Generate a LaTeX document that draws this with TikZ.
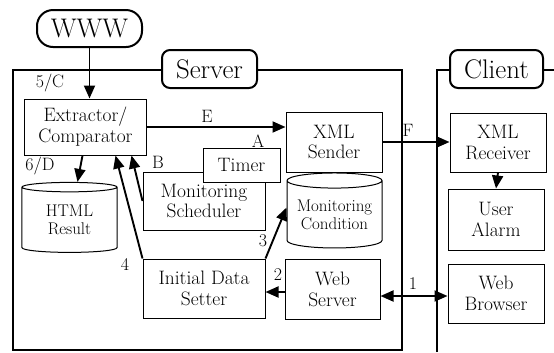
\documentclass[tikz,border=0pt]{standalone}
\usetikzlibrary{arrows.meta,shapes.geometric}
\begin{document}
\begin{tikzpicture}[x=1bp,y=-1bp,
    box/.style={draw,line width=1bp,fill=white,inner sep=0pt,align=center,font=\fontsize{19.5}{21}\selectfont},
    tag/.style={draw,line width=2bp,rounded corners=8bp,fill=white,inner sep=0pt,font=\fontsize{27}{29}\selectfont},
    store/.style={draw,line width=1bp,cylinder,shape border rotate=90,aspect=0.2,inner sep=0pt,align=center,font=\fontsize{17}{18}\selectfont},
    arr/.style={line width=1.9bp,-{Triangle[length=13bp,width=11bp]}},
    lbl/.style={inner sep=0pt,font=\fontsize{18}{20}\selectfont}]
    \useasboundingbox (0,0) rectangle (554,352);

    \draw[line width=1.8bp] (13,70) rectangle (402,350);
    \draw[line width=1.8bp] (437,352) -- (437,70) -- (554,70);

    \node[tag,minimum width=105bp,minimum height=37bp,rounded corners=16bp] (www) at (89.5,28.5) {WWW};
    \node[tag,minimum width=95bp,minimum height=38bp] (server) at (209.5,69) {Server};
    \node[tag,minimum width=93bp,minimum height=38bp] (client) at (496.5,69) {Client};

    \node[box,minimum width=121bp,minimum height=56bp] (ext) at (85.5,127) {Extractor/\\Comparator};
    \node[box,minimum width=96bp,minimum height=60bp] (xs) at (334,142) {XML\\Sender};
    \node[box,minimum width=96bp,minimum height=59bp] (xr) at (498,142.5) {XML\\Receiver};
    \node[box,minimum width=96bp,minimum height=61bp] (ua) at (496,219.5) {User\\Alarm};
    \node[box,minimum width=96bp,minimum height=59bp] (wb) at (496,293.5) {Web\\Browser};
    \node[box,minimum width=95bp,minimum height=60bp] (ws) at (332.5,289) {Web\\Server};
    \node[box,minimum width=122bp,minimum height=59bp] (ids) at (204,288.5) {Initial Data\\Setter};
    \node[box,minimum width=122bp,minimum height=58bp] (sched) at (204,201) {Monitoring\\Scheduler};
    \node[box,minimum width=77bp,minimum height=34bp] (timer) at (241.5,165) {Timer};
    \node[store,minimum width=95bp,minimum height=75bp] (cond) at (334.5,214.5) {Monitoring\\Condition};
    \node[store,minimum width=95bp,minimum height=70bp] (html) at (69.5,220) {HTML\\Result};

    \draw[arr] (www.south) -- (www.south |- ext.north);
    \draw[arr] (ext.east) -- (ext.east -| xs.west);
    \draw[arr] (xs.east) -- (xs.east -| xr.west);
    \draw[arr] (xr.south) -- (ua.north);
    \draw[arr] ([xshift=-3bp]ext.south) -- ([xshift=8bp]html.north);
    \draw[arr] (sched.west) -- ([xshift=-15bp]ext.south east);
    \draw[arr] (ids.north west) -- ([xshift=-31bp]ext.south east);
    \draw[arr] (ids.north east) -- ([yshift=7bp]cond.west);
    \draw[arr] ([yshift=-3bp]ws.west) -- ([yshift=-3bp]ws.west -| ids.east);
    \draw[arr,{Triangle[length=13bp,width=11bp]}-{Triangle[length=13bp,width=11bp]}] ([yshift=-7bp]ws.east) -- ([yshift=-7bp]ws.east -| wb.west);

    \node[lbl] (lc) at (50,83) {5/C};
    \node[lbl] (ld) at (40,166) {6/D};
    \node[lbl] (le) at (207,116) {E};
    \node[lbl] (la) at (258,141) {A};
    \node[lbl] (lb) at (158,162) {B};
    \node[lbl] (lf) at (408,130) {F};
    \node[lbl] (l1) at (413,284) {1};
    \node[lbl] (l2) at (278,275) {2};
    \node[lbl] (l3) at (263,241) {3};
    \node[lbl] (l4) at (125,264) {4};
\end{tikzpicture}
\end{document}
